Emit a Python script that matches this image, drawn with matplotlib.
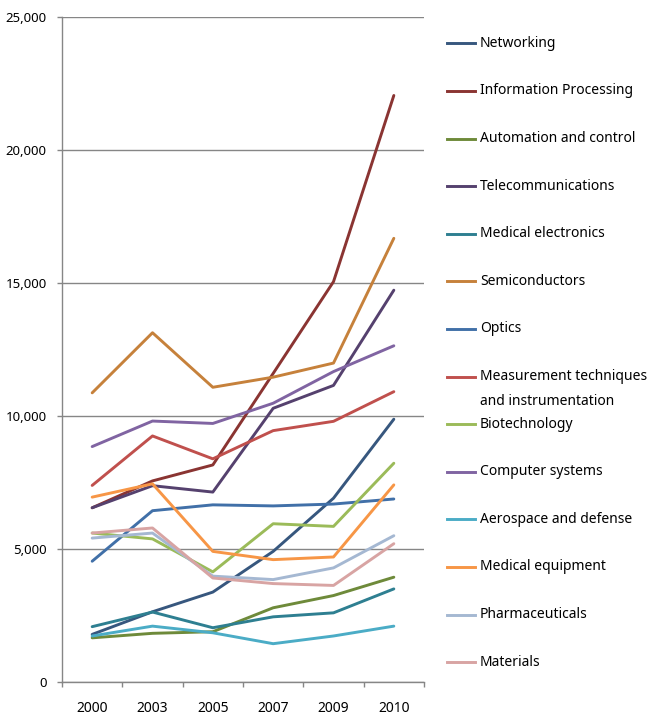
import matplotlib
matplotlib.use("Agg")
import matplotlib.pyplot as plt
from matplotlib.lines import Line2D
from matplotlib.ticker import FuncFormatter, FixedLocator

years = ["2000", "2003", "2005", "2007", "2009", "2010"]

networking = [1790, 2640, 3380, 4910, 6910, 9880]
information_processing = [6550, 7560, 8160, 11600, 15050, 22050]
automation_control = [1660, 1830, 1890, 2790, 3250, 3940]
telecommunications = [6550, 7380, 7140, 10290, 11150, 14730]
medical_electronics = [2080, 2630, 2040, 2450, 2600, 3500]
semiconductors = [10870, 13130, 11080, 11460, 11990, 16680]
optics = [4540, 6440, 6660, 6620, 6690, 6880]
measurement = [7390, 9250, 8390, 9450, 9800, 10915]
biotechnology = [5600, 5380, 4140, 5950, 5850, 8225]
computer_systems = [8850, 9810, 9720, 10480, 11670, 12640]
aerospace_defense = [1730, 2100, 1850, 1440, 1730, 2100]
medical_equipment = [6950, 7450, 4910, 4600, 4700, 7410]
pharmaceuticals = [5410, 5600, 3980, 3850, 4290, 5500]
materials = [5600, 5790, 3910, 3700, 3630, 5200]

labels = ["Networking", "Information Processing", "Automation and control",
          "Telecommunications", "Medical electronics", "Semiconductors", "Optics",
          "Measurement techniques\nand instrumentation", "Biotechnology",
          "Computer systems", "Aerospace and defense", "Medical equipment",
          "Pharmaceuticals", "Materials"]
series = [networking, information_processing, automation_control, telecommunications,
          medical_electronics, semiconductors, optics, measurement, biotechnology,
          computer_systems, aerospace_defense, medical_equipment, pharmaceuticals, materials]
colors = ["#37577E", "#8A3432", "#6E8A3A", "#55416E", "#2E7F91", "#C6813B", "#4170A8",
          "#C0504D", "#9BBB59", "#8064A2", "#4BACC6", "#F79646", "#A5B8D2", "#D8A4A3"]

plt.rcParams['font.family'] = ['Noto Sans', 'DejaVu Sans']
W, H = 656, 722
fig = plt.figure(figsize=(W / 100, H / 100), dpi=100)
ax = fig.add_axes([62 / W, (H - 682) / H, (424 - 62) / W, (682 - 17) / H])

x = list(range(len(years)))
for s, c in zip(series, colors):
    ax.plot(x, s, color=c, lw=2.1, solid_capstyle='round', solid_joinstyle='round')

ax.set_xlim(-0.5, len(years) - 0.5)
ax.set_ylim(0, 25000)
ax.set_yticks(range(0, 25001, 5000))
ax.yaxis.set_major_formatter(FuncFormatter(lambda v, p: f"{int(v):,}"))
ax.set_xticks(x)
ax.set_xticklabels(years)
ax.xaxis.set_minor_locator(FixedLocator([i - 0.5 for i in range(len(years) + 1)]))
ax.tick_params(axis='x', which='major', length=0, pad=14, labelsize=10, colors='black')
ax.tick_params(axis='x', which='minor', length=3.6, width=1, color='#868686')
ax.tick_params(axis='y', length=3.6, width=1, color='#868686', labelsize=9.5, pad=7.5)
for lab in ax.get_xticklabels() + ax.get_yticklabels():
    lab.set_color('#000000')

ax.grid(axis='y', color='#868686', lw=1)
ax.set_axisbelow(True)
for side in ['top', 'right']:
    ax.spines[side].set_visible(False)
for side in ['left', 'bottom']:
    ax.spines[side].set_color('#868686')
    ax.spines[side].set_linewidth(1)

# legend drawn manually to match the fixed row spacing of the reference
y0 = 43.3
step = 47.6
for i, (lab, c) in enumerate(zip(labels, colors)):
    yy = y0 + i * step
    fy = 1 - yy / H
    fig.add_artist(Line2D([447 / W, 475 / W], [fy, fy], color=c, lw=2.1,
                          transform=fig.transFigure))
    lines = lab.split("\n")
    for j, t in enumerate(lines):
        fig.text(480 / W, 1 - (yy + j * 25) / H, t, fontsize=10, va='center',
                 ha='left', color='black')

fig.savefig("out.png", dpi=100)
